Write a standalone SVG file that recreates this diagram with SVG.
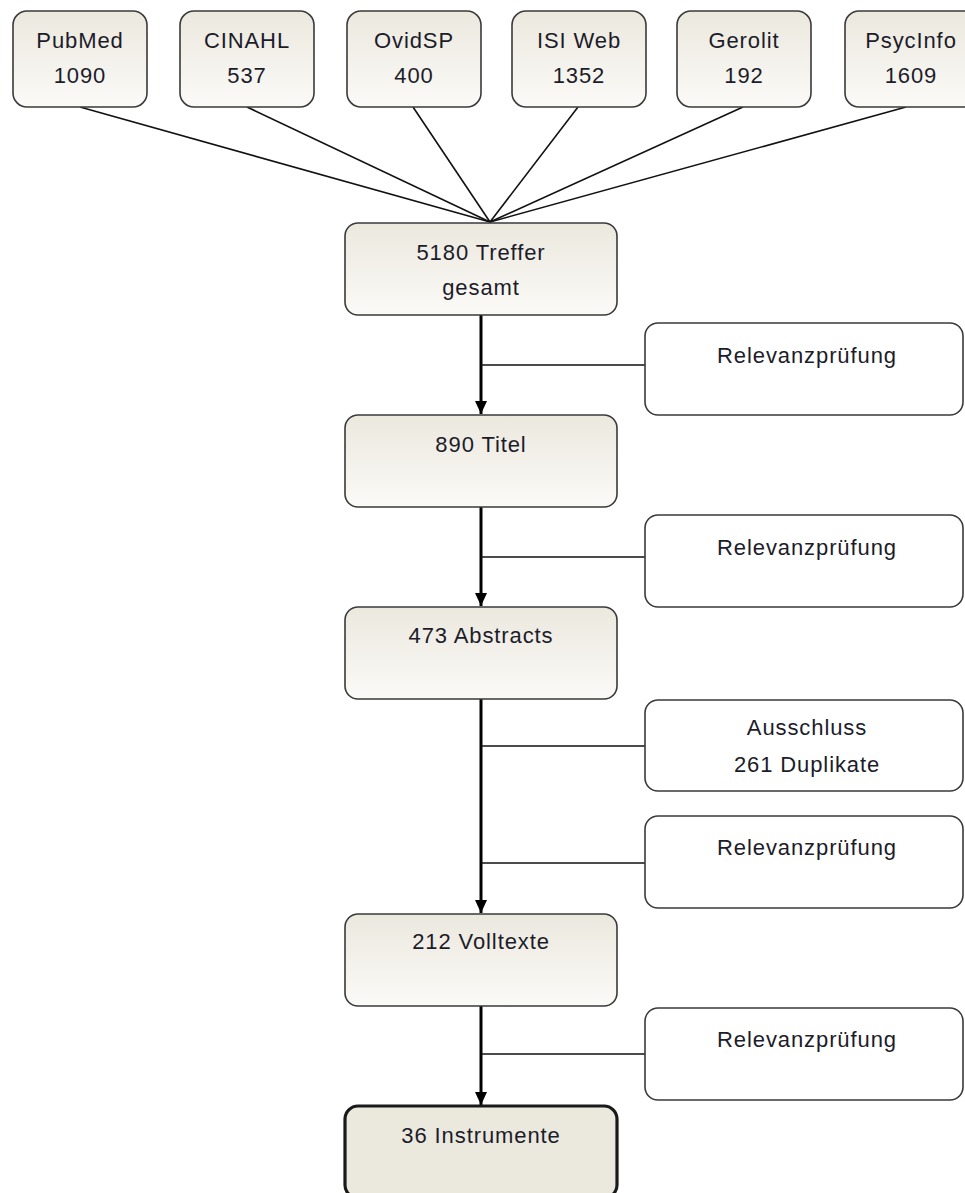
<svg xmlns="http://www.w3.org/2000/svg" width="965" height="1193" viewBox="0 0 965 1193">
<defs>
<linearGradient id="g" x1="0" y1="0" x2="0" y2="1">
<stop offset="0" stop-color="#ebe8de"/>
<stop offset="1" stop-color="#fbfaf7"/>
</linearGradient>
<marker id="arr" markerWidth="14" markerHeight="12" refX="13" refY="6" orient="auto" markerUnits="userSpaceOnUse">
<path d="M0,0 L13,6 L0,12 Z" fill="#000"/>
</marker>
<style>
.box{fill:url(#g);stroke:#3a3a3a;stroke-width:1.6}
.side{fill:#fff;stroke:#3a3a3a;stroke-width:1.6}
.final{fill:#ebe8de;stroke:#1a1a1a;stroke-width:3.2}
text{font-family:"Liberation Sans",Arial,sans-serif;font-size:22px;fill:#1c1c2a;text-anchor:middle;letter-spacing:0.9px}
.thin{stroke:#111;stroke-width:1.6;fill:none}
.main{stroke:#000;stroke-width:3;fill:none}
</style>
</defs>
<g id="connectors">
<line class="thin" x1="80" y1="107" x2="490" y2="222"/>
<line class="thin" x1="247" y1="107" x2="490" y2="222"/>
<line class="thin" x1="413" y1="107" x2="490" y2="222"/>
<line class="thin" x1="578" y1="107" x2="490" y2="222"/>
<line class="thin" x1="743" y1="107" x2="490" y2="222"/>
<line class="thin" x1="906" y1="107" x2="490" y2="222"/>
<line class="main" x1="481" y1="315" x2="481" y2="414" marker-end="url(#arr)"/>
<line class="main" x1="481" y1="507" x2="481" y2="606" marker-end="url(#arr)"/>
<line class="main" x1="481" y1="699" x2="481" y2="913" marker-end="url(#arr)"/>
<line class="main" x1="481" y1="1006" x2="481" y2="1105" marker-end="url(#arr)"/>
<line class="thin" x1="481" y1="365" x2="645" y2="365"/>
<line class="thin" x1="481" y1="557" x2="645" y2="557"/>
<line class="thin" x1="481" y1="746" x2="645" y2="746"/>
<line class="thin" x1="481" y1="863" x2="645" y2="863"/>
<line class="thin" x1="481" y1="1054" x2="645" y2="1054"/>
</g>
<g id="pubmed"><rect class="box" x="13" y="11" width="134" height="96" rx="14"/><text x="80" y="48">PubMed</text><text x="80" y="83">1090</text></g>
<g id="cinahl"><rect class="box" x="180" y="11" width="134" height="96" rx="14"/><text x="247" y="48">CINAHL</text><text x="247" y="83">537</text></g>
<g id="ovidsp"><rect class="box" x="347" y="11" width="134" height="96" rx="14"/><text x="414" y="48">OvidSP</text><text x="414" y="83">400</text></g>
<g id="isiweb"><rect class="box" x="512" y="11" width="134" height="96" rx="14"/><text x="579" y="48">ISI Web</text><text x="579" y="83">1352</text></g>
<g id="gerolit"><rect class="box" x="677" y="11" width="134" height="96" rx="14"/><text x="744" y="48">Gerolit</text><text x="744" y="83">192</text></g>
<g id="psycinfo"><rect class="box" x="845" y="11" width="134" height="96" rx="14"/><text x="911" y="48">PsycInfo</text><text x="911" y="83">1609</text></g>
<g id="treffer"><rect class="box" x="345" y="223" width="272" height="92" rx="13"/><text x="481" y="260">5180 Treffer</text><text x="481" y="295">gesamt</text></g>
<g id="titel"><rect class="box" x="345" y="415" width="272" height="92" rx="13"/><text x="481" y="452">890 Titel</text></g>
<g id="abstracts"><rect class="box" x="345" y="607" width="272" height="92" rx="13"/><text x="481" y="643">473 Abstracts</text></g>
<g id="volltexte"><rect class="box" x="345" y="914" width="272" height="92" rx="13"/><text x="481" y="949">212 Volltexte</text></g>
<g id="instrumente"><rect class="final" x="345" y="1106" width="272" height="92" rx="13"/><text x="481" y="1143">36 Instrumente</text></g>
<g id="relevanz1"><rect class="side" x="645" y="323" width="318" height="92" rx="13"/><text x="807" y="363">Relevanzprüfung</text></g>
<g id="relevanz2"><rect class="side" x="645" y="515" width="318" height="92" rx="13"/><text x="807" y="555">Relevanzprüfung</text></g>
<g id="ausschluss"><rect class="side" x="645" y="700" width="318" height="91" rx="13"/><text x="807" y="735">Ausschluss</text><text x="807" y="772">261 Duplikate</text></g>
<g id="relevanz3"><rect class="side" x="645" y="816" width="318" height="92" rx="13"/><text x="807" y="855">Relevanzprüfung</text></g>
<g id="relevanz4"><rect class="side" x="645" y="1008" width="318" height="92" rx="13"/><text x="807" y="1047">Relevanzprüfung</text></g>
</svg>
